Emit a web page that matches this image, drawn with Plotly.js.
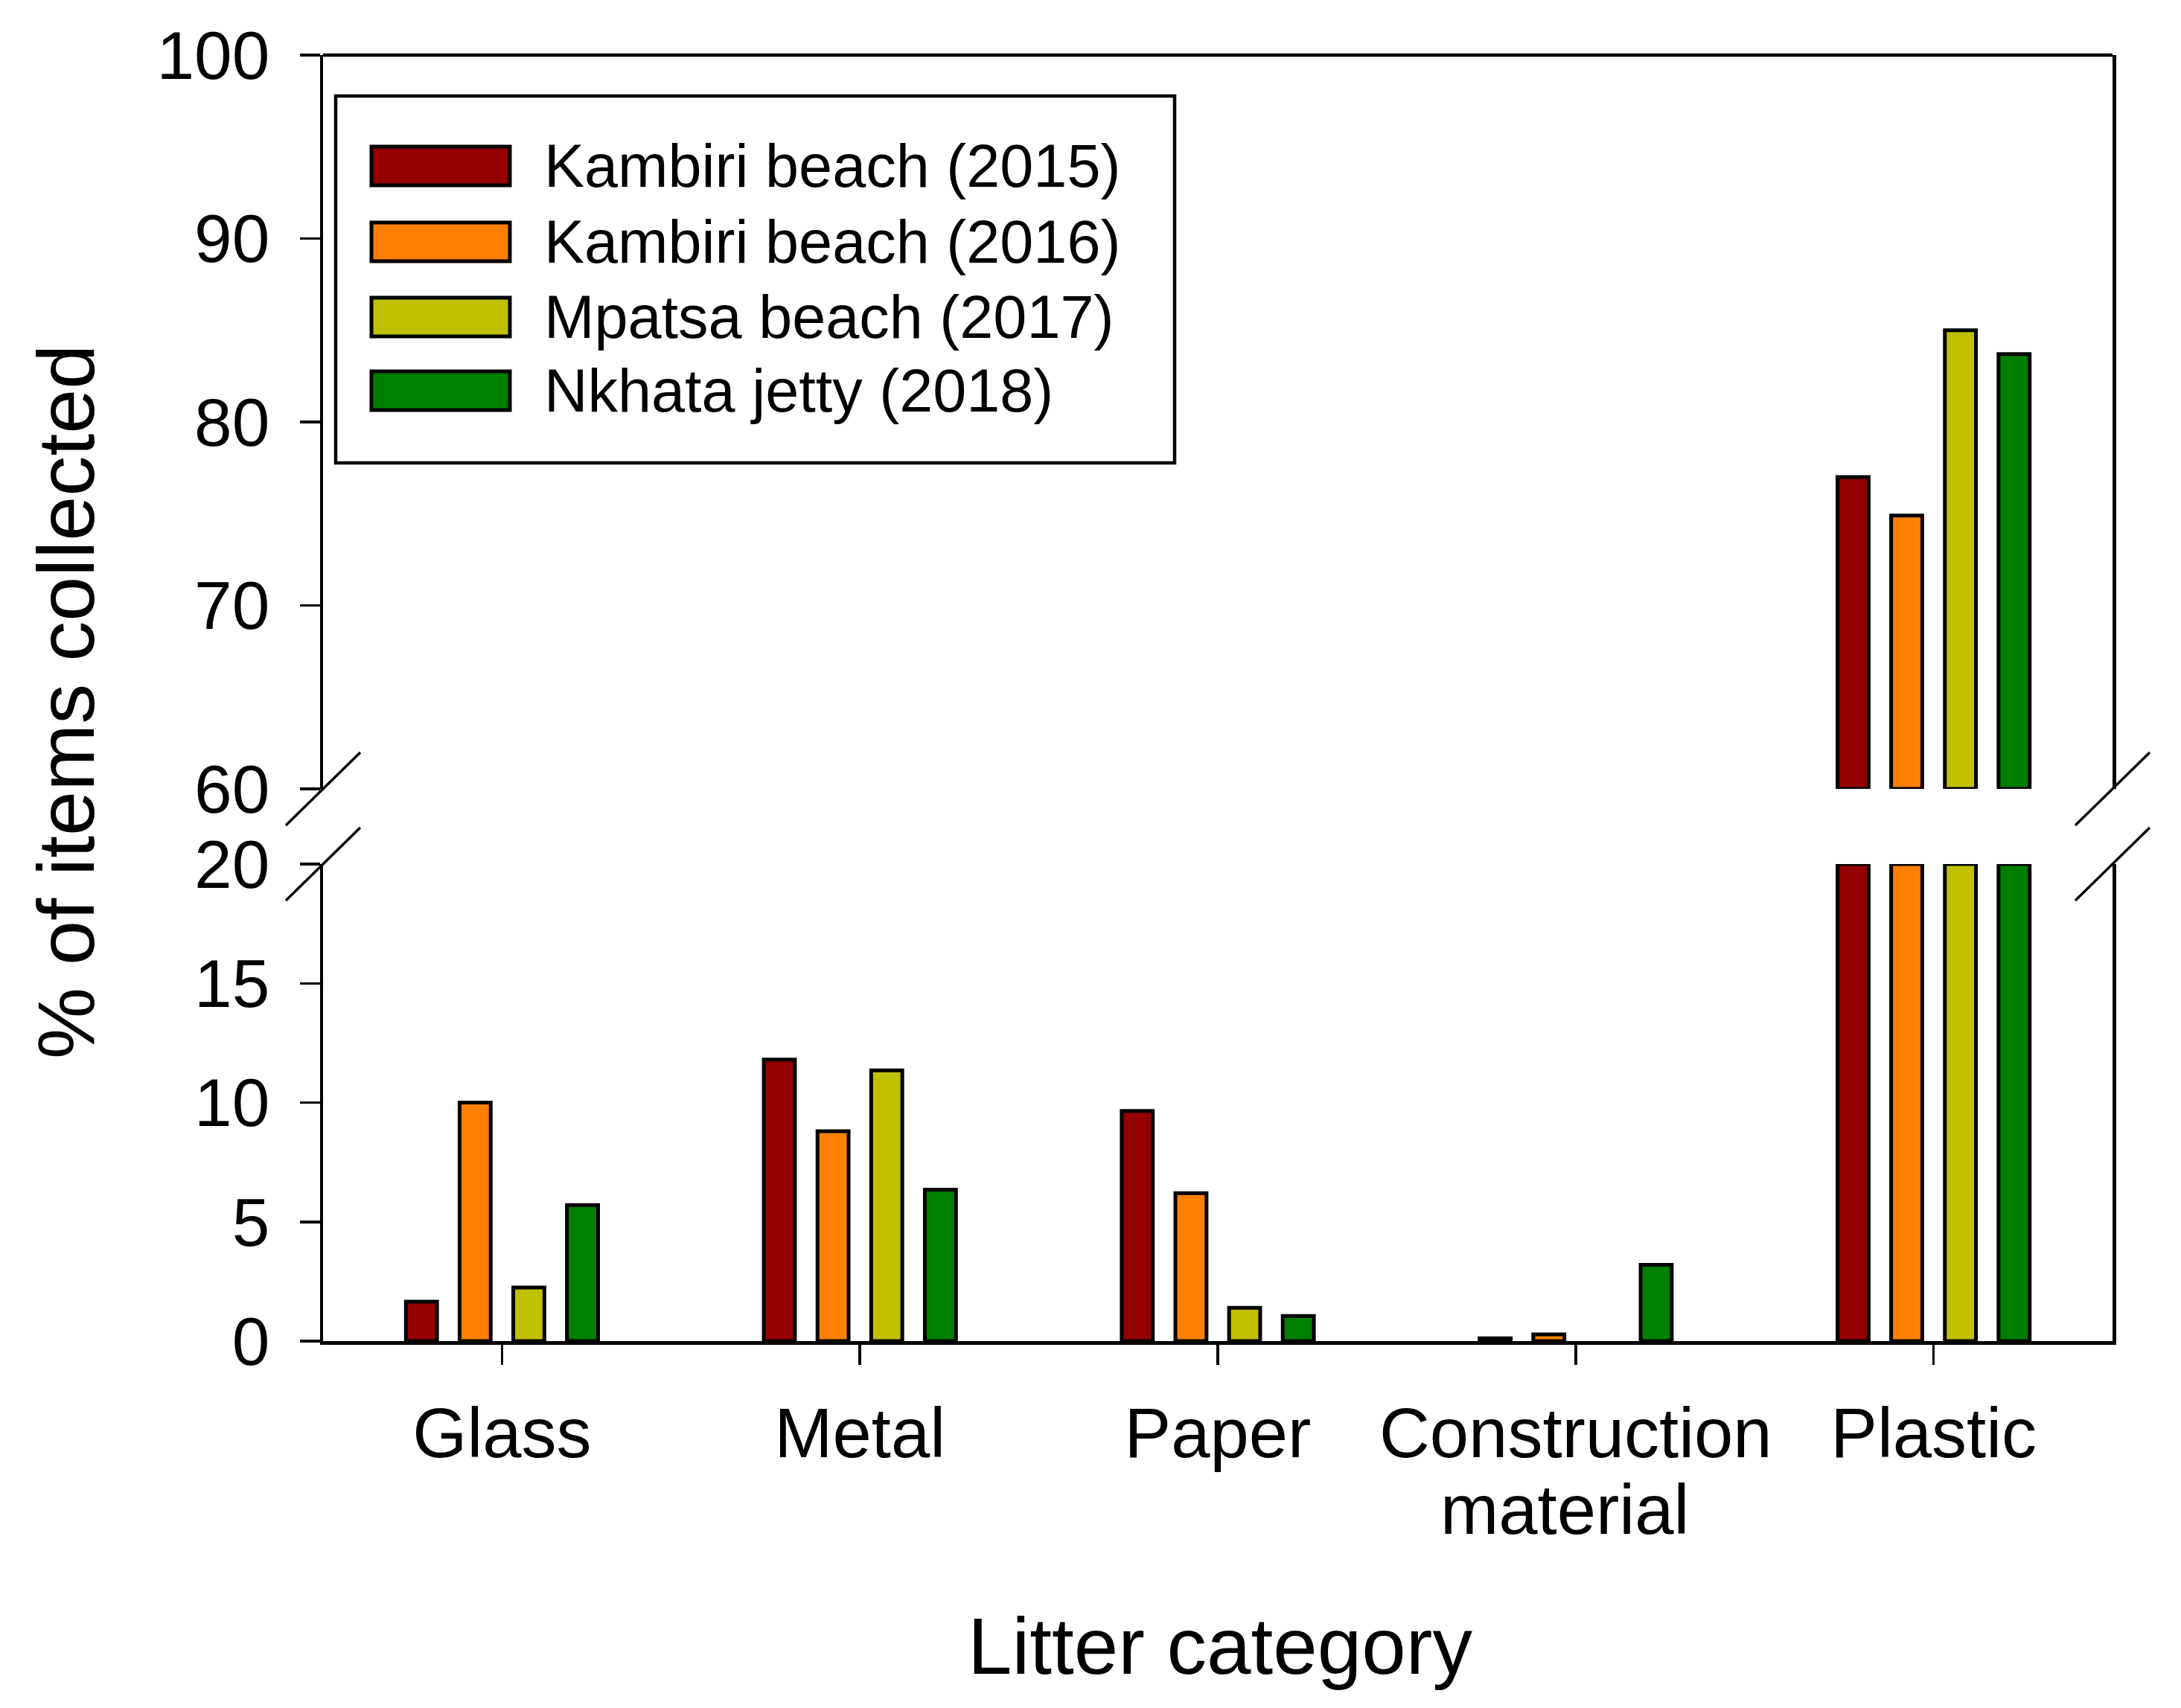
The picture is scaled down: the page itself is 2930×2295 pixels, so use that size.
<!DOCTYPE html>
<html>
<head>
<meta charset="utf-8">
<script src="https://cdn.plot.ly/plotly-3.0.1.min.js"></script>
<style>html,body{margin:0;padding:0;background:#fff;}</style>
</head>
<body>
<div id="chart" style="width:2930px;height:2295px;"></div>
<script>
// ---- data ----
const categories = ['Glass', 'Metal', 'Paper', 'Construction material', 'Plastic'];
const tickLabels = ['Glass', 'Metal', 'Paper', 'Construction', 'Plastic'];
const tickSecondLine = {'Construction material': 'material'};
const seriesNames = ['Kambiri beach (2015)', 'Kambiri beach (2016)', 'Mpatsa beach (2017)', 'Nkhata jetty (2018)'];
const kambiri2015 = [1.65, 11.8, 9.65, 0.12, 77.0];
const kambiri2016 = [10.0, 8.8, 6.2, 0.28, 74.9];
const mpatsa2017 = [2.25, 11.35, 1.4, 0, 85.0];
const nkhata2018 = [5.7, 6.35, 1.05, 3.2, 83.7];
const seriesColors = ['#940000', '#FF8000', '#C0C000', '#008000'];
const lowerTicks = [0, 5, 10, 15, 20];
const upperTicks = [60, 70, 80, 90, 100];
const lowerRange = [0, 20];
const upperRange = [60, 100];

const allSeries = [kambiri2015, kambiri2016, mpatsa2017, nkhata2018];

// ---- geometry (pixels) ----
const W = 2930, H = 2295;
const M = {l: 434, r: 92, t: 74, b: 493};
const PW = W - M.l - M.r, PH = H - M.t - M.b;
const yBottom = H - M.b;
const px2x = p => (p - M.l) / PW;
const px2y = p => (yBottom - p) / PH;
const lowerTopPx = 1161, upperBottomPx = 1060;

const FONT = 'Liberation Sans, Arial, sans-serif';
const BAR_LINE = 5;

const traces = [];
allSeries.forEach((vals, i) => {
  traces.push({
    type: 'bar', x: categories,
    y: vals.map(v => v > 0 ? Math.min(v, lowerRange[1]) : null),
    name: seriesNames[i], xaxis: 'x', yaxis: 'y', showlegend: false,
    marker: {color: seriesColors[i], line: {color: '#000', width: BAR_LINE}},
    hoverinfo: 'skip'
  });
});
allSeries.forEach((vals, i) => {
  traces.push({
    type: 'bar', x: categories, y: vals.map(v => v > upperRange[0] ? v - upperRange[0] : null),
    base: upperRange[0],
    name: seriesNames[i], xaxis: 'x', yaxis: 'y2', showlegend: false,
    marker: {color: seriesColors[i], line: {color: '#000', width: BAR_LINE}},
    hoverinfo: 'skip'
  });
});

const axisCommon = {
  showline: true, linewidth: 4.5, linecolor: '#000', mirror: true,
  ticks: 'outside', ticklen: 27, tickwidth: 3.5, tickcolor: '#000',
  showgrid: false, zeroline: false, fixedrange: true,
  tickfont: {family: FONT, size: 91, color: '#000'},
  ticklabelstandoff: 22
};

const shapes = [];
const annotations = [];
// top frame line
shapes.push({type: 'line', xref: 'paper', yref: 'paper', x0: 0, x1: 1, y0: 1, y1: 1,
  line: {color: '#000', width: 4.5}});
// axis break slashes
[M.l, W - M.r].forEach(xp => {
  [upperBottomPx, lowerTopPx].forEach(yp => {
    shapes.push({type: 'line', xref: 'paper', yref: 'paper',
      x0: px2x(xp - 50), y0: px2y(yp + 49), x1: px2x(xp + 50), y1: px2y(yp - 49),
      line: {color: '#000', width: 3.5}});
  });
});
// legend box
shapes.push({type: 'rect', xref: 'paper', yref: 'paper',
  x0: px2x(451), x1: px2x(1578), y0: px2y(622), y1: px2y(129),
  line: {color: '#000', width: 4.5}, fillcolor: 'rgba(255,255,255,0)'});
const legendRows = [223, 325, 426, 525];
seriesNames.forEach((nm, i) => {
  const cy = legendRows[i];
  shapes.push({type: 'rect', xref: 'paper', yref: 'paper',
    x0: px2x(499), x1: px2x(685), y0: px2y(cy + 26), y1: px2y(cy - 26),
    line: {color: '#000', width: BAR_LINE}, fillcolor: seriesColors[i]});
  annotations.push({xref: 'paper', yref: 'paper', x: px2x(729), y: px2y(cy),
    xanchor: 'left', yanchor: 'middle', showarrow: false, text: nm,
    font: {family: FONT, size: 81, color: '#000'}});
});
// second line of the two-line category label
Object.keys(tickSecondLine).forEach(cat => {
  annotations.push({xref: 'x', yref: 'paper', x: cat, y: px2y(2028), xshift: -15,
    xanchor: 'center', yanchor: 'middle', showarrow: false,
    text: tickSecondLine[cat], font: {family: FONT, size: 94, color: '#000'}});
});
// axis titles
annotations.push({xref: 'paper', yref: 'paper', x: px2x(88), y: px2y(943),
  xanchor: 'center', yanchor: 'middle', showarrow: false, textangle: -90,
  text: '% of items collected', font: {family: FONT, size: 108, color: '#000'}});
annotations.push({xref: 'paper', yref: 'paper', x: px2x(1639), y: px2y(2212),
  xanchor: 'center', yanchor: 'middle', showarrow: false,
  text: 'Litter category', font: {family: FONT, size: 107, color: '#000'}});

const layout = {
  width: W, height: H,
  margin: M,
  paper_bgcolor: '#fff', plot_bgcolor: 'rgba(0,0,0,0)',
  barmode: 'group', bargap: 0.4, bargroupgap: 0.42,
  showlegend: false,
  xaxis: {
    anchor: 'y', range: [-0.5, 4.5], type: 'category',
    tickvals: categories, ticktext: tickLabels,
    showline: true, linewidth: 4.5, linecolor: '#000', mirror: false,
    ticks: 'outside', ticklen: 27, tickwidth: 3.5, tickcolor: '#000',
    showgrid: false, zeroline: false, fixedrange: true,
    tickfont: {family: FONT, size: 94, color: '#000'},
    ticklabelstandoff: 12
  },
  yaxis: Object.assign({}, axisCommon, {
    domain: [0, px2y(lowerTopPx)], range: lowerRange, tickvals: lowerTicks, anchor: 'x'
  }),
  yaxis2: Object.assign({}, axisCommon, {
    domain: [px2y(upperBottomPx), 1], range: upperRange, tickvals: upperTicks, anchor: 'x'
  }),
  shapes: shapes,
  annotations: annotations
};

Plotly.newPlot('chart', traces, layout, {displayModeBar: false, staticPlot: true});
</script>
</body>
</html>
